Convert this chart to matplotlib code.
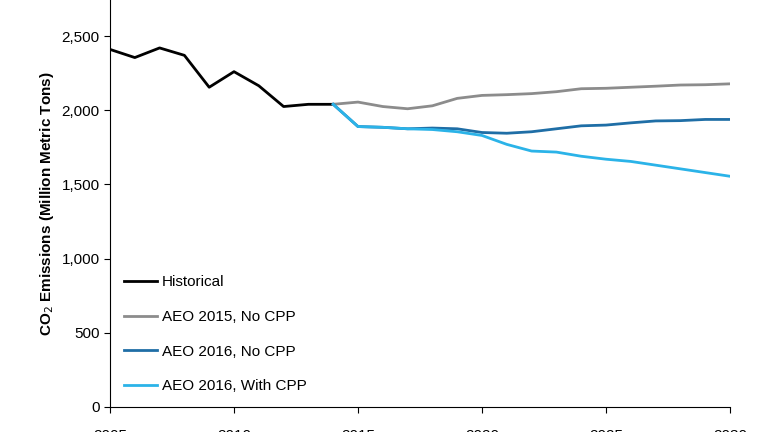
import matplotlib
matplotlib.use("Agg")
import matplotlib.pyplot as plt
from matplotlib.ticker import FuncFormatter

plt.rcParams['font.family'] = ['Liberation Sans', 'DejaVu Sans']

hist_years = list(range(2005, 2015))
hist = [2410, 2355, 2420, 2370, 2155, 2260, 2165, 2025, 2040, 2040]

proj_years = list(range(2014, 2031))
aeo15_nocpp = [2040, 2055, 2025, 2010, 2030, 2080, 2100, 2105, 2112, 2125, 2145, 2148, 2155, 2162, 2170, 2172, 2178]
aeo16_nocpp = [2040, 1890, 1885, 1875, 1880, 1875, 1850, 1845, 1855, 1875, 1895, 1900, 1915, 1928, 1930, 1938, 1938]
aeo16_cpp = [2040, 1890, 1885, 1875, 1870, 1855, 1830, 1770, 1725, 1718, 1690, 1670, 1655, 1630, 1605, 1580, 1555]

fig = plt.figure(figsize=(7.68, 4.32), dpi=100)
ax = fig.add_axes([110/768, (432-407)/432, 620/768, 407/432])

ax.plot(hist_years, hist, color='black', lw=2, label='Historical')
ax.plot(proj_years, aeo15_nocpp, color='#8c8c8c', lw=2, label='AEO 2015, No CPP')
ax.plot(proj_years, aeo16_nocpp, color='#1f6ea6', lw=2, label='AEO 2016, No CPP')
ax.plot(proj_years, aeo16_cpp, color='#2bb3e8', lw=2, label='AEO 2016, With CPP')

ax.set_xlim(2005, 2030)
ax.set_ylim(0, 2743)
ax.set_xticks(range(2005, 2031, 5))
ax.set_yticks(range(0, 2501, 500))
ax.yaxis.set_major_formatter(FuncFormatter(lambda v, p: f'{int(v):,}'))
ax.tick_params(labelsize=11, length=4)
ax.tick_params(axis='x', pad=12)
for s in ['top', 'right']:
    ax.spines[s].set_visible(False)
ax.set_ylabel('CO$_2$ Emissions (Million Metric Tons)', fontsize=11, fontweight='bold')

ax.legend(loc='lower left', bbox_to_anchor=(0.0, 0.0), frameon=False, fontsize=11,
          labelspacing=1.35, handlelength=2.2, handletextpad=0.3)

fig.savefig('out.png', dpi=100)
